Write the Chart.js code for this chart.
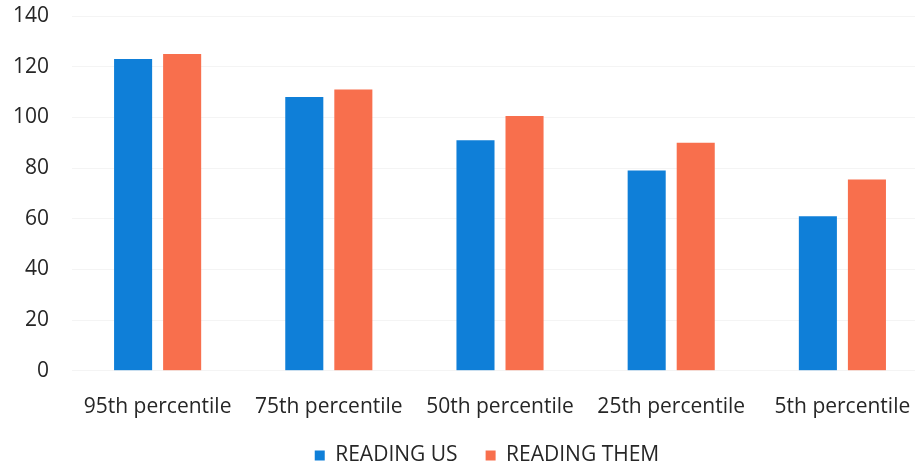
<!DOCTYPE html>
<html>
<head>
<meta charset="utf-8">
<script src="https://cdn.jsdelivr.net/npm/chart.js@4"></script>
<style>
  html, body { margin: 0; padding: 0; background: #fff; overflow: hidden; }
  #wrap { width: 968px; height: 469px; position: relative; }
</style>
</head>
<body>
<div id="wrap"><canvas id="chart"></canvas></div>
<script>
const categories = ["95th percentile", "75th percentile", "50th percentile", "25th percentile", "5th percentile"];
const readingUs = [123, 108, 91, 79, 61];
const readingThem = [125, 111, 100.5, 90, 75.5];
const yTicks = [0, 20, 40, 60, 80, 100, 120, 140];

const textColor = "#262626";
const font = { family: "Open Sans", size: 21 };

// nudge the legend: the original sits right of centre and close under the labels
const legendShift = {
  id: "legendShift",
  afterLayout(chart) {
    const lg = chart.legend;
    lg.left += 28;
    lg.right += 28;
    lg.top -= 19;
    lg.bottom -= 19;
  }
};

const ctx = document.getElementById("chart").getContext("2d");
new Chart(ctx, {
  type: "bar",
  data: {
    labels: categories,
    datasets: [
      { label: "READING US", data: readingUs, backgroundColor: "#0f7fd8" },
      { label: "READING THEM", data: readingThem, backgroundColor: "#f86f4d" }
    ]
  },
  options: {
    responsive: true,
    maintainAspectRatio: false,
    animation: false,
    categoryPercentage: 0.573,
    barPercentage: 0.776,
    layout: { padding: { left: -10, right: 40, top: 0, bottom: -26 } },
    scales: {
      x: {
        grid: { display: false },
        border: { display: false },
        ticks: { color: textColor, font: font, padding: 16 }
      },
      y: {
        min: 0,
        max: 140,
        afterBuildTicks: axis => { axis.ticks = yTicks.map(v => ({ value: v })); },
        afterFit: axis => { axis.paddingTop = 16; },
        grid: { color: "#f4f4f4", drawTicks: false },
        border: { display: false },
        ticks: { color: textColor, font: font, padding: 23 }
      }
    },
    plugins: {
      tooltip: { enabled: false },
      legend: {
        display: true,
        position: "bottom",
        labels: {
          color: textColor,
          font: font,
          boxWidth: 10,
          boxHeight: 10,
          padding: 28
        }
      }
    }
  },
  plugins: [legendShift]
});
</script>
</body>
</html>
